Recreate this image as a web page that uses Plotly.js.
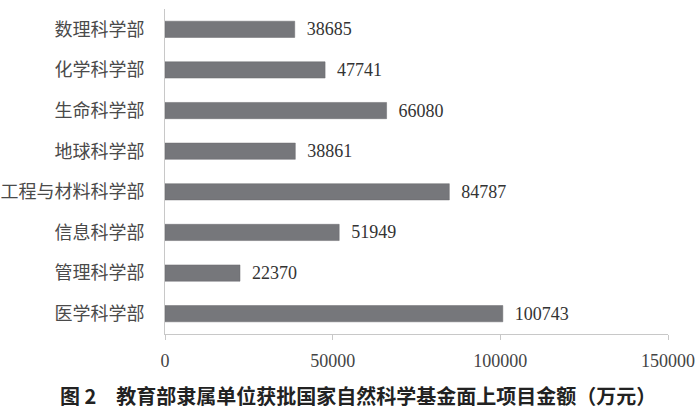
<!DOCTYPE html>
<html><head><meta charset="utf-8">
<script src="https://cdn.plot.ly/plotly-3.0.1.min.js"></script>
<style>html,body{margin:0;padding:0;background:#fff}#c{width:700px;height:409px}</style>
</head><body><div id="c"></div>
<script>
const categories = ["数理科学部","化学科学部","生命科学部","地球科学部","工程与材料科学部","信息科学部","管理科学部","医学科学部"];
const values = [38685,47741,66080,38861,84787,51949,22370,100743];
const tickVals = [0,50000,100000,150000];
const caption = "图 2　教育部隶属单位获批国家自然科学基金面上项目金额（万元）";

Plotly.newPlot("c",[{
  type:"bar", orientation:"h",
  x: values, y: categories,
  marker:{color:"#76777b", line:{color:"#6a6b6f", width:0.5}},
  text: values.map(v => "\u2002" + v), textposition:"outside", cliponaxis:false,
  constraintext:"none",
  textfont:{family:"Liberation Serif, Times New Roman, serif", size:18, color:"#333"},
  hoverinfo:"none"
}],{
  width:700, height:409,
  margin:{l:165, r:32, t:9, b:75},
  paper_bgcolor:"#fff", plot_bgcolor:"#fff",
  bargap:0.6, showlegend:false,
  xaxis:{range:[0,150000], tickvals:tickVals, ticktext:tickVals.map(String),
    showgrid:false, zeroline:false, showline:true, linecolor:"#c8c8c8", linewidth:1,
    ticks:"outside", ticklen:5, tickcolor:"#c8c8c8", ticklabelstandoff:5,
    tickfont:{family:"Liberation Serif, Times New Roman, serif", size:18, color:"#444"}},
  yaxis:{autorange:"reversed", showgrid:false, zeroline:false, showline:true, linecolor:"#c8c8c8",
    ticks:"", ticklen:0, ticklabelstandoff:16,
    tickfont:{family:"Noto Sans CJK SC", size:18, color:"#4a4a4a"}},
  annotations:[{text:caption, xref:"paper", yref:"paper", x:(358-165)/503, y:0, yshift:-61,
    xanchor:"center", yanchor:"middle", showarrow:false,
    font:{family:"Noto Sans CJK SC", size:20, color:"#222", weight:"bold"}}]
},{staticPlot:true});
</script></body></html>
